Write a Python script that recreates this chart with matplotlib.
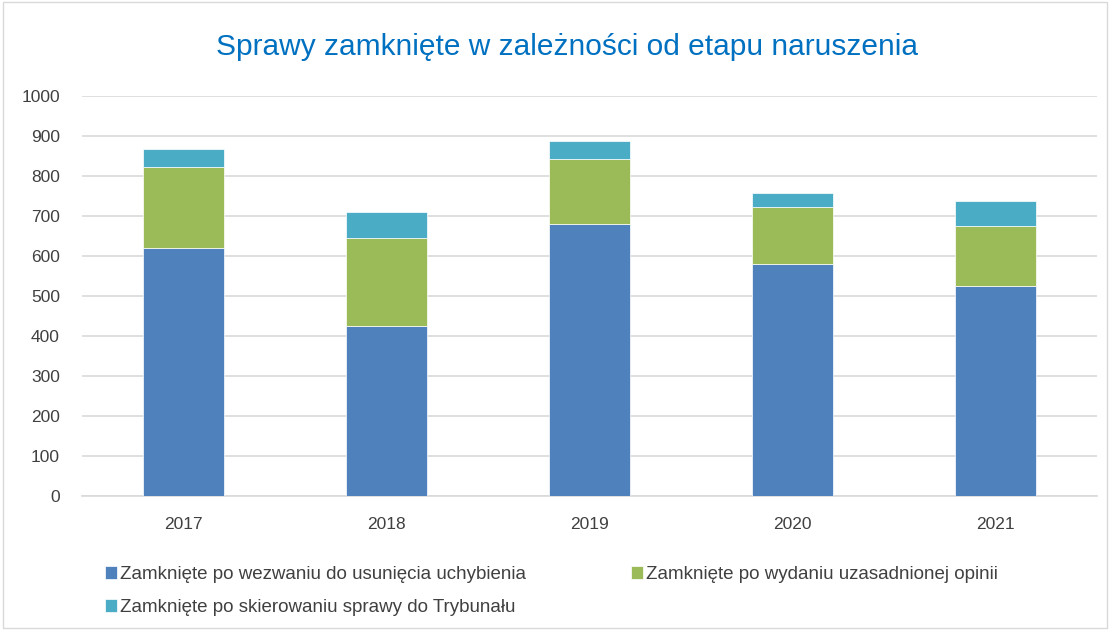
import numpy as np
import matplotlib
matplotlib.use('Agg')
import matplotlib.pyplot as plt
from matplotlib.patches import Rectangle

plt.rcParams['font.family'] = ['Liberation Sans', 'DejaVu Sans']

# dane
years = ['2017', '2018', '2019', '2020', '2021']
wezwanie = [620, 425, 681, 581, 526]
opinia = [202, 219, 161, 142, 150]
trybunal = [46, 66, 46, 35, 62]
labels = ['Zamknięte po wezwaniu do usunięcia uchybienia',
          'Zamknięte po wydaniu uzasadnionej opinii',
          'Zamknięte po skierowaniu sprawy do Trybunału']
colors = ['#4F81BD', '#9BBB59', '#4BACC6']

fig = plt.figure(figsize=(11.1, 6.3), dpi=100)
ax = fig.add_axes([0.0739, 0.2127, 0.9141, 0.6349])

x = np.arange(len(years))
b1 = ax.bar(x, wezwanie, 0.4, color=colors[0], edgecolor='white', linewidth=0.5, zorder=3)
b2 = ax.bar(x, opinia, 0.4, bottom=wezwanie, color=colors[1], edgecolor='white', linewidth=0.5, zorder=3)
bottom2 = np.array(wezwanie) + np.array(opinia)
b3 = ax.bar(x, trybunal, 0.4, bottom=bottom2, color=colors[2], edgecolor='white', linewidth=0.5, zorder=3)

ax.set_xlim(-0.5, len(years) - 0.5)
ax.set_ylim(0, 1000)
ax.set_yticks(range(0, 1001, 100))
ax.set_xticks(x)
ax.set_xticklabels(years)
ax.grid(axis='y', color='#D9D9D9', linewidth=1.2, zorder=0)
for s in ['top', 'right', 'left']:
    ax.spines[s].set_visible(False)
ax.spines['bottom'].set_color('#D9D9D9')
ax.spines['bottom'].set_linewidth(1.2)
ax.tick_params(axis='both', length=0, labelsize=12.5, colors='#404040')
ax.tick_params(axis='x', pad=15)
ax.tick_params(axis='y', pad=16)

fig.text(0.511, 0.925, 'Sprawy zamknięte w zależności od etapu naruszenia',
         ha='center', va='center', fontsize=21.5, color='#0070C0')

# legenda (kolejność wierszami)
handles = [b1, b3, b2]
leg_labels = [labels[0], labels[2], labels[1]]
fig.legend(handles, leg_labels, ncol=2, loc='upper left', bbox_to_anchor=(0.088, 0.113),
           frameon=False, fontsize=13.5, handlelength=0.65, handleheight=0.65,
           handletextpad=0.15, columnspacing=5.6, labelspacing=0.85,
           labelcolor='#404040', borderaxespad=0)

# ramka wykresu
fig.patches.append(Rectangle((0.003, 0.003), 0.994, 0.994, transform=fig.transFigure,
                             fill=False, edgecolor='#D9D9D9', linewidth=1))

plt.savefig('out.png', dpi=100)
